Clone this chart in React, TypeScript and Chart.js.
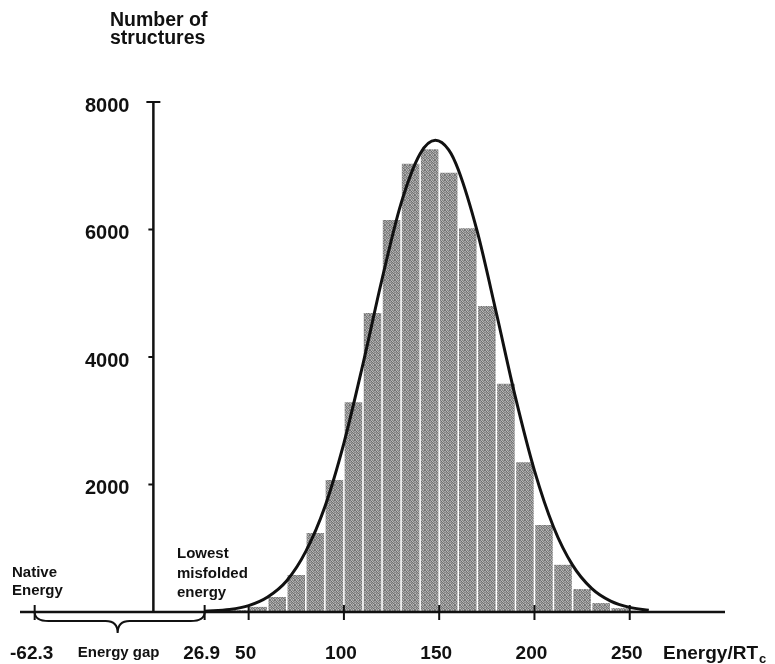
import React, { useEffect, useRef } from 'react';
import { Chart, registerables } from 'chart.js';

Chart.register(...registerables);

// Histogram bins (bin centres, 10-unit wide bins) and counts
const binCenters = [35, 45, 55, 65, 75, 85, 95, 105, 115, 125, 135, 145, 155, 165, 175, 185, 195, 205, 215, 225, 235, 245, 255];
const binCounts = [15, 30, 80, 235, 580, 1240, 2070, 3290, 4690, 6150, 7030, 7260, 6890, 6020, 4800, 3580, 2350, 1365, 740, 360, 140, 60, 20];

// Fitted curve
const curveX = [27, 40, 50, 60, 70, 80, 90, 100, 110, 120, 130, 140, 148, 155, 160, 170, 180, 190, 200, 210, 220, 230, 240, 250, 260];
const curveY = [12, 40, 100, 235, 490, 950, 1650, 2650, 3890, 5220, 6410, 7190, 7400, 7250, 6940, 5965, 4690, 3370, 2218, 1334, 735, 370, 170, 72, 28];

// Axes
const xMin = -70;
const xMax = 300;
const yMin = 0;
const yMax = 8000;
const xTickValues = [-62.3, 26.9, 50, 100, 150, 200, 250];
const xTickLabels = ['-62.3', '26.9', '50', '100', '150', '200', '250'];
const yTickValues = [2000, 4000, 6000, 8000];
const yTickLabels = ['2000', '4000', '6000', '8000'];

// Texts
const yTitleLines = ['Number of', 'structures'];
const xTitleMain = 'Energy/RT';
const xTitleSub = 'c';
const gapLabel = 'Energy gap';
const gapFrom = -62.3;
const gapTo = 26.9;
const nativeLines = ['Native', 'Energy'];
const lowestLines = ['Lowest', 'misfolded', 'energy'];

const INK = '#111111';
const FONT = '"Liberation Sans", Arial, Helvetica, sans-serif';

// stipple texture tile for the bars (grey levels)
const STIPPLE = [
  [0x7a, 0xb4, 0x86, 0x9e, 0x70],
  [0xa8, 0x6c, 0xbc, 0x80, 0xa2],
  [0x8c, 0x9a, 0x74, 0xb0, 0x84],
  [0xb8, 0x78, 0xa4, 0x6e, 0x9c],
  [0x82, 0xaa, 0x8e, 0xbe, 0x76],
];

function makeStipple(): CanvasPattern | string {
  const c = document.createElement('canvas');
  c.width = STIPPLE[0].length;
  c.height = STIPPLE.length;
  const g = c.getContext('2d');
  if (!g) return '#929292';
  STIPPLE.forEach((row, j) =>
    row.forEach((v, i) => {
      g.fillStyle = `rgb(${v},${v},${v})`;
      g.fillRect(i, j, 1, 1);
    })
  );
  const p = g.createPattern(c, 'repeat');
  return p || '#929292';
}

const annotate = {
  id: 'annotate',
  afterDatasetsDraw(chart: any) {
    const ctx: CanvasRenderingContext2D = chart.ctx;
    const xs = chart.scales.x;
    const ys = chart.scales.y;
    const X = (v: number) => xs.getPixelForValue(v);
    const Y = (v: number) => ys.getPixelForValue(v);
    const y0 = Y(0);
    const ax = X(0);

    ctx.save();
    ctx.strokeStyle = INK;
    ctx.fillStyle = INK;
    ctx.lineCap = 'butt';

    // x axis line
    ctx.lineWidth = 2.5;
    ctx.beginPath();
    ctx.moveTo(X(xMin), y0);
    ctx.lineTo(X(xMax), y0);
    ctx.stroke();

    // y axis line
    ctx.beginPath();
    ctx.moveTo(ax, Y(yMax));
    ctx.lineTo(ax, y0);
    ctx.stroke();

    // T cap at top tick, small left ticks elsewhere
    ctx.lineWidth = 2;
    yTickValues.forEach((v) => {
      ctx.beginPath();
      if (v === yMax) {
        ctx.moveTo(ax - 7, Y(v));
        ctx.lineTo(ax + 7, Y(v));
      } else {
        ctx.moveTo(ax - 5, Y(v));
        ctx.lineTo(ax, Y(v));
      }
      ctx.stroke();
    });

    // x tick marks crossing the axis
    xTickValues.forEach((v) => {
      ctx.beginPath();
      ctx.moveTo(X(v), y0 - 7);
      ctx.lineTo(X(v), y0 + 8);
      ctx.stroke();
    });

    // brace for the energy gap
    const bx0 = X(gapFrom);
    const bx1 = X(gapTo);
    const bm = (bx0 + bx1) / 2 - 2;
    const d = 9;
    ctx.lineWidth = 2;
    ctx.beginPath();
    ctx.moveTo(bx0, y0);
    ctx.quadraticCurveTo(bx0, y0 + d, bx0 + 14, y0 + d);
    ctx.lineTo(bm - 12, y0 + d);
    ctx.quadraticCurveTo(bm, y0 + d, bm, y0 + 21);
    ctx.quadraticCurveTo(bm, y0 + d, bm + 12, y0 + d);
    ctx.lineTo(bx1 - 14, y0 + d);
    ctx.quadraticCurveTo(bx1, y0 + d, bx1, y0);
    ctx.stroke();

    // x tick labels
    ctx.font = `bold 19px ${FONT}`;
    ctx.textAlign = 'center';
    ctx.textBaseline = 'alphabetic';
    xTickValues.forEach((v, i) => {
      ctx.fillText(xTickLabels[i], X(v) - 3, y0 + 46.5);
    });

    // y tick labels
    ctx.font = `bold 20px ${FONT}`;
    ctx.textAlign = 'right';
    yTickValues.forEach((v, i) => {
      ctx.fillText(yTickLabels[i], ax - 24, Y(v) + 9.7);
    });

    // gap label
    ctx.font = `bold 15px ${FONT}`;
    ctx.textAlign = 'center';
    ctx.fillText(gapLabel, bm + 1, y0 + 45);

    // x title with subscript
    ctx.font = `bold 19px ${FONT}`;
    ctx.textAlign = 'left';
    const tx = 663;
    ctx.fillText(xTitleMain, tx, y0 + 47);
    const w = ctx.measureText(xTitleMain).width;
    ctx.font = `bold 13px ${FONT}`;
    ctx.fillText(xTitleSub, tx + w + 1, y0 + 51);

    // y title
    ctx.font = `bold 19.5px ${FONT}`;
    ctx.fillText(yTitleLines[0], 110, 26);
    ctx.fillText(yTitleLines[1], 110, 43.5);

    // annotations
    ctx.font = `bold 15px ${FONT}`;
    ctx.fillText(nativeLines[0], 12, 577);
    ctx.fillText(nativeLines[1], 12, 595);
    ctx.fillText(lowestLines[0], 177, 558);
    ctx.fillText(lowestLines[1], 177, 577.5);
    ctx.fillText(lowestLines[2], 177, 597);

    ctx.restore();
  },
};

export default function App() {
  const ref = useRef<HTMLCanvasElement | null>(null);

  useEffect(() => {
    if (!ref.current) return;
    const chart = new Chart(ref.current, {
      type: 'bar',
      data: {
        datasets: [
          {
            type: 'line',
            data: curveX.map((x, i) => ({ x, y: curveY[i] })),
            borderColor: INK,
            borderWidth: 3,
            pointRadius: 0,
            fill: false,
            tension: 0.4,
            cubicInterpolationMode: 'monotone',
            order: 0,
          } as any,
          {
            type: 'bar',
            data: binCenters.map((x, i) => ({ x, y: binCounts[i] })),
            backgroundColor: makeStipple(),
            borderWidth: 0,
            barPercentage: 0.92,
            categoryPercentage: 1,
            order: 1,
          } as any,
        ],
      },
      options: {
        responsive: false,
        animation: false,
        layout: { padding: { left: 20, right: 50, top: 102, bottom: 52 } },
        scales: {
          x: { type: 'linear', min: xMin, max: xMax, display: false, offset: false },
          y: { type: 'linear', min: yMin, max: yMax, display: false },
        },
        plugins: {
          legend: { display: false },
          tooltip: { enabled: false },
        },
      } as any,
      plugins: [annotate],
    });
    return () => chart.destroy();
  }, []);

  return (
    <div style={{ position: 'fixed', left: 0, top: 0, width: 775, height: 664, background: '#fff' }}>
      <canvas ref={ref} width={775} height={664} style={{ display: 'block' }} />
    </div>
  );
}
